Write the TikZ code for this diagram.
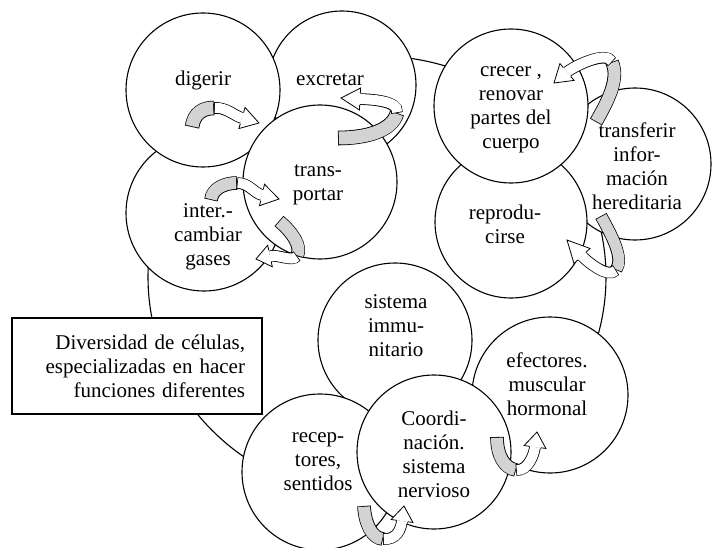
\documentclass[tikz,border=0pt]{standalone}
\usepackage{fontspec}
\setmainfont{Liberation Serif}
\usetikzlibrary{calc}
\definecolor{ribbongray}{RGB}{211,211,211}
% gray (underside) part of a twisted block arrow
\newcommand\grayband[2]{%
  \draw[line width=#1pt+1.6pt, black] #2;
  \draw[line width=#1pt, ribbongray, shorten <=0.8pt, shorten >=0.8pt] #2;}
% white (top side) part with its head: #1 width, #2 start, #3 control, #4 head base, #5 tip
\newcommand\whiteband[5]{%
  \pgfmathsetmacro\hwA{#1/2+0.8}%
  \draw[line width=#1pt+1.6pt] #2 .. controls #3 and ($#4!-8pt!#5$) .. #4;
  \draw[line width=#1pt, white, shorten <=0.8pt] #2 .. controls #3 and ($#4!-8pt!#5$) .. #4;
  \fill[white] ($#4!11pt!90:#5$) -- #5 -- ($#4!11pt!-90:#5$) -- cycle;
  \draw[line width=0.8pt, line join=miter] ($#4!\hwA pt!90:#5$) -- ($#4!11pt!90:#5$) -- #5 -- ($#4!11pt!-90:#5$) -- ($#4!\hwA pt!-90:#5$);}
\begin{document}
\begin{tikzpicture}[x=1pt, y=-1pt, line width=1.1pt,
  cell/.style={circle, draw, fill=white, inner sep=0pt},
  lab/.style={align=center, inner sep=0pt, font=\fontsize{21}{24}\selectfont}]
\useasboundingbox (0,0) rectangle (712,548);
% background outline
\draw (377,277) ellipse [x radius=229, y radius=221];
% cells, back to front
\node[cell, minimum size=148pt] (cExc) at (342,85) {};
\node[cell, minimum size=156pt] (cInt) at (204,213) {};
\node[cell, minimum size=154pt] (cDig) at (203,90) {};
\node[cell, minimum size=154pt] (cTra) at (320,182) {};
\node[cell, minimum size=152pt] (cTrf) at (635,164) {};
\node[cell, minimum size=152pt] (cRep) at (511,222) {};
\node[cell, minimum size=154pt] (cCre) at (511,106) {};
\node[cell, minimum size=154pt] (cImm) at (395,340) {};
\node[cell, minimum size=156pt] (cRec) at (320,472) {};
\node[cell, minimum size=156pt] (cEfe) at (550,395) {};
\node[cell, minimum size=154pt] (cCoo) at (434,452) {};
% box
\node[draw, fill=white, minimum width=250pt, minimum height=96pt, inner xsep=17pt,
      text width=216pt, align=right, font=\fontsize{21}{24}\selectfont] (box) at (137,366)
  {Diversidad de células,\\especializadas en hacer\\funciones diferentes};
% arrows
\grayband{13}{(192,127) .. controls (194,113) and (203,108) .. (214,108)}
\whiteband{10}{(214,108)}{(226,107)}{(242,118)}{(259,123)}
\grayband{13}{(338,138) .. controls (366,138) and (392,131) .. (397,113)}
\whiteband{10}{(397,113)}{(399,100)}{(360,99)}{(341,98)}
\grayband{12}{(211,200) .. controls (212,189) and (224,183) .. (237,183)}
\whiteband{10}{(237,183)}{(249,183)}{(262,195)}{(279,199)}
\grayband{12}{(279,221) .. controls (292,232) and (302,246) .. (297,256)}
\whiteband{10}{(297,256)}{(292,262)}{(270,256)}{(256,259)}
\grayband{12}{(596,122) .. controls (606,104) and (620,80) .. (612,62)}
\whiteband{10}{(612,62)}{(606,50)}{(567,72)}{(554,83)}
\grayband{11}{(601,216) .. controls (612,236) and (624,258) .. (616,270)}
\whiteband{10}{(616,270)}{(608,279)}{(582,256)}{(567,240)}
\grayband{12}{(497,437) .. controls (497,455) and (504,468) .. (516,470)}
\whiteband{10}{(516,470)}{(528,471)}{(535,447)}{(537,432)}
\grayband{12}{(364,506) .. controls (365,524) and (372,538) .. (383,539)}
\whiteband{10}{(383,539)}{(397,540)}{(402,521)}{(404,506)}
% labels
\node[lab] (tDig) at (203,80) {digerir};
\node[lab] (tExc) at (330,80) {excretar};
\node[lab] (tTra) at (318,185) {trans-\\portar};
\node[lab] (tInt) at (208,237) {inter.-\\cambiar\\gases};
\node[lab] (tCre) at (511,110) {crecer ,\\renovar\\partes del\\cuerpo};
\node[lab] (tTrf) at (637,166) {transferir\\infor-\\mación\\hereditaria};
\node[lab] (tRep) at (505,224) {reprodu-\\cirse};
\node[lab] (tImm) at (396,326) {sistema\\immu-\\nitario};
\node[lab] (tEfe) at (547,384) {efectores.\\muscular\\hormonal};
\node[lab] (tCoo) at (434,454) {Coordi-\\nación.\\sistema\\nervioso};
\node[lab] (tRec) at (318,462) {recep-\\tores,\\sentidos};
\end{tikzpicture}
\end{document}
